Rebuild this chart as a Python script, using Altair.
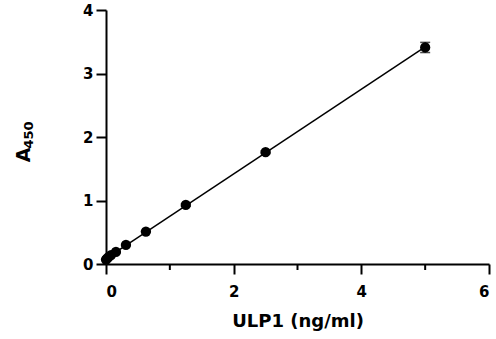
import altair as alt
import pandas as pd

conc = [0, 0.0195, 0.039, 0.078, 0.156, 0.3125, 0.625, 1.25, 2.5, 5.0]
a450 = [0.07, 0.09, 0.11, 0.14, 0.19, 0.30, 0.51, 0.93, 1.76, 3.41]
err = [0.01, 0.01, 0.01, 0.01, 0.01, 0.01, 0.01, 0.02, 0.02, 0.08]
minor_ticks = [1, 3, 5]
x_ticks = [0, 2, 4, 6]
y_ticks = [0, 1, 2, 3, 4]
x_title = "ULP1 (ng/ml)"
y_title_main = ["A"]
y_title_sub = ["450"]

df = pd.DataFrame({"conc": conc, "a450": a450, "err": err})
df["lo"] = df["a450"] - df["err"]
df["hi"] = df["a450"] + df["err"]
minor = pd.DataFrame({"m": minor_ticks})

W, H = 383, 254
FONT = "DejaVu Sans"

xs = alt.Scale(domain=[0, 6], nice=False, zero=False)
ys = alt.Scale(domain=[0, 4], nice=False, zero=False)

xaxis = alt.Axis(values=x_ticks, title=x_title, format="d", labelPadding=10,
                 titlePadding=13)
yaxis = alt.Axis(values=y_ticks, title=None, format="d", labelPadding=3)

base = alt.Chart(df)

fit = base.transform_regression("conc", "a450", extent=[0, 5]).mark_line(
    color="black", strokeWidth=1.5
).encode(x=alt.X("conc:Q", scale=xs, axis=xaxis),
         y=alt.Y("a450:Q", scale=ys, axis=yaxis))

pts = base.mark_circle(size=105, color="black", opacity=1).encode(
    x=alt.X("conc:Q", scale=xs, axis=xaxis),
    y=alt.Y("a450:Q", scale=ys, axis=yaxis),
)

ebar = base.mark_rule(color="black", strokeWidth=1.5).encode(
    x=alt.X("conc:Q", scale=xs), y=alt.Y("lo:Q", scale=ys), y2="hi:Q"
)
caplo = base.mark_tick(color="black", thickness=1.5, size=10, orient="horizontal").encode(
    x=alt.X("conc:Q", scale=xs), y=alt.Y("lo:Q", scale=ys)
)
caphi = base.mark_tick(color="black", thickness=1.5, size=10, orient="horizontal").encode(
    x=alt.X("conc:Q", scale=xs), y=alt.Y("hi:Q", scale=ys)
)

mticks = alt.Chart(minor).mark_rule(color="black", strokeWidth=2).encode(
    x=alt.X("m:Q", scale=xs), y=alt.value(H), y2=alt.value(H + 6)
)

ttl_a = alt.Chart(pd.DataFrame({"t": y_title_main})).mark_text(
    font=FONT, fontWeight="bold", fontSize=19, angle=270, align="center",
    baseline="middle", color="black"
).encode(text="t:N", x=alt.value(-82), y=alt.value(145))
ttl_s = alt.Chart(pd.DataFrame({"t": y_title_sub})).mark_text(
    font=FONT, fontWeight="bold", fontSize=13, angle=270, align="center",
    baseline="middle", color="black"
).encode(text="t:N", x=alt.value(-77), y=alt.value(125))

chart = alt.layer(fit, ebar, caplo, caphi, pts, mticks, ttl_a, ttl_s).properties(
    width=W, height=H,
    autosize=alt.AutoSizeParams(type="none"),
    padding={"left": 106, "top": 10, "right": 7, "bottom": 75},
).configure(background="white").configure_view(stroke=None).configure_axis(
    grid=False, domainColor="black", domainWidth=2, tickColor="black", tickWidth=2,
    tickSize=10, labelFont=FONT, labelFontSize=15, labelFontWeight="bold",
    labelColor="black", titleFont=FONT, titleFontSize=18, titleFontWeight="bold",
    titleColor="black",
)

chart.save("out.html", embed_options={"renderer": "svg", "actions": False})
